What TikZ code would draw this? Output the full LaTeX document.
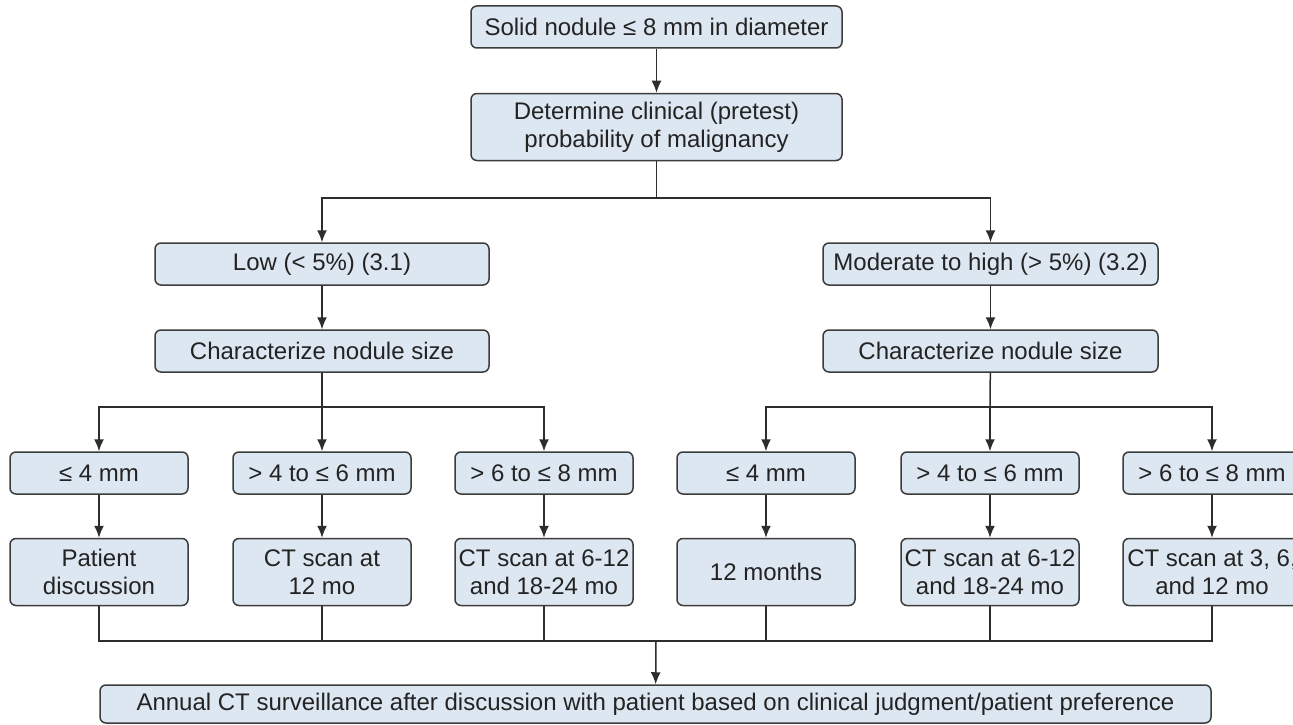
\documentclass[tikz,border=0pt]{standalone}
\usepackage{fontspec}
\setmainfont{Liberation Sans}
\usetikzlibrary{arrows.meta}
\definecolor{boxfill}{RGB}{221,231,241}
\definecolor{boxline}{RGB}{60,60,60}
\definecolor{conn}{RGB}{45,45,45}
\definecolor{txt}{RGB}{35,35,35}
\tikzset{
  box/.style={draw=boxline, fill=boxfill, line width=1.5pt, rounded corners=6pt,
    align=center, inner sep=2pt, text=txt, font=\fontsize{24}{28}\selectfont},
  one/.style={box, minimum height=42pt},
  two/.style={box, minimum height=67pt},
  conline/.style={draw=conn, line width=1.5pt},
  arr/.style={conline, -{Latex[length=12pt,width=10pt]}}
}
\begin{document}
\begin{tikzpicture}[x=1pt,y=-1pt]
\useasboundingbox (0,0) rectangle (1293,725);
\fill[white] (0,0) rectangle (1293,725);
% top
\node[one, minimum width=371pt] (top) at (656.5,27) {Solid nodule ≤ 8 mm in diameter};
\node[two, minimum width=371pt] (det) at (656.5,127) {Determine clinical (pretest)\\probability of malignancy};
% risk
\node[one, minimum width=334pt] (low) at (322,264) {Low (< 5\%) (3.1)};
\node[one, minimum width=335pt] (mod) at (990.5,264) {Moderate to high (> 5\%) (3.2)};
\node[one, minimum width=334pt] (charL) at (322,351) {Characterize nodule size};
\node[one, minimum width=335pt] (charR) at (990.5,351) {Characterize nodule size};
% sizes
\node[one, minimum width=178pt] (s1) at (99,473) {≤ 4 mm};
\node[one, minimum width=178pt] (s2) at (322,473) {> 4 to ≤ 6 mm};
\node[one, minimum width=178pt] (s3) at (544,473) {> 6 to ≤ 8 mm};
\node[one, minimum width=178pt] (s4) at (766,473) {≤ 4 mm};
\node[one, minimum width=178pt] (s5) at (990,473) {> 4 to ≤ 6 mm};
\node[one, minimum width=178pt] (s6) at (1212,473) {> 6 to ≤ 8 mm};
% results
\node[two, minimum width=178pt] (r1) at (99,572) {Patient\\discussion};
\node[two, minimum width=178pt] (r2) at (322,572) {CT scan at\\12 mo};
\node[two, minimum width=178pt] (r3) at (544,572) {CT scan at 6-12\\and 18-24 mo};
\node[two, minimum width=178pt] (r4) at (766,572) {12 months};
\node[two, minimum width=178pt] (r5) at (990,572) {CT scan at 6-12\\and 18-24 mo};
\node[two, minimum width=178pt] (r6) at (1212,572) {CT scan at 3, 6,\\and 12 mo};
% final
\node[box, minimum width=1111pt, minimum height=38pt] (fin) at (655.5,704) {Annual CT surveillance after discussion with patient based on clinical judgment/patient preference};
% junctions
\coordinate (j1) at (656.5,198);
\coordinate (j2L) at (322,407);
\coordinate (j2R) at (990,407);
\coordinate (j3) at (656,641);
% connectors
\draw[arr] (top) -- (det);
\draw[conline] (det) -- (j1);
\draw[arr] (j1) -| (low);
\draw[arr] (j1) -| (mod);
\draw[arr] (low) -- (charL);
\draw[arr] (mod) -- (charR);
\draw[conline] (charL) -- (j2L);
\draw[conline] (charR) -- (j2R);
\draw[arr] (j2L) -| (s1);
\draw[arr] (j2L) -- (s2);
\draw[arr] (j2L) -| (s3);
\draw[arr] (j2R) -| (s4);
\draw[arr] (j2R) -- (s5);
\draw[arr] (j2R) -| (s6);
\draw[arr] (s1) -- (r1);
\draw[arr] (s2) -- (r2);
\draw[arr] (s3) -- (r3);
\draw[arr] (s4) -- (r4);
\draw[arr] (s5) -- (r5);
\draw[arr] (s6) -- (r6);
\draw[conline] (r1) |- (j3);
\draw[conline] (r6) |- (j3);
\draw[conline] (r2) -- (r2 |- j3);
\draw[conline] (r3) -- (r3 |- j3);
\draw[conline] (r4) -- (r4 |- j3);
\draw[conline] (r5) -- (r5 |- j3);
\draw[arr] (j3) -- (fin);
\end{tikzpicture}
\end{document}
